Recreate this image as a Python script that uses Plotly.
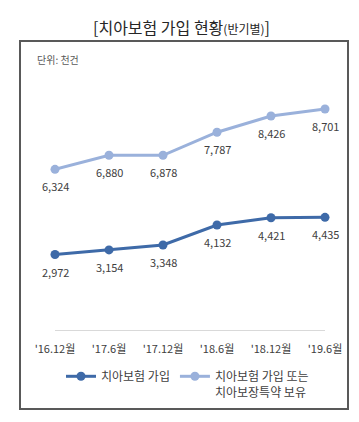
import plotly.graph_objects as go

categories = ["'16.12월", "'17.6월", "'17.12월", "'18.6월", "'18.12월", "'19.6월"]
dental_join = [2972, 3154, 3348, 4132, 4421, 4435]
dental_or_rider = [6324, 6880, 6878, 7787, 8426, 8701]
series_names = ["치아보험 가입", "치아보험 가입 또는<br>치아보장특약 보유"]

FONT = "Noto Sans CJK KR, Malgun Gothic, sans-serif"
DARK = "#3E6AA8"
LIGHT = "#9AB1DB"
xs = list(range(len(categories)))

fig = go.Figure()
fig.add_trace(go.Scatter(
    x=xs, y=dental_join, name=series_names[0], mode="lines+markers",
    line=dict(color=DARK, width=3), marker=dict(color=DARK, size=9), cliponaxis=False,
))
fig.add_trace(go.Scatter(
    x=xs, y=dental_or_rider, name=series_names[1], mode="lines+markers",
    line=dict(color=LIGHT, width=3), marker=dict(color=LIGHT, size=9), cliponaxis=False,
))

L, R, T, B = 55, 34, 76, 92
W, H = 359, 422
pw, ph = W - L - R, H - T - B

def px(x):
    return (x - L) / pw

def py(y):
    return (H - B - y) / ph

annotations = [
    dict(text="[치아보험 가입 현황<span style='font-size:12px'>(반기별)</span>]",
         xref="paper", yref="paper", x=px(181), y=py(27), showarrow=False,
         font=dict(size=16, color="#262626", family=FONT), xanchor="center", yanchor="middle"),
    dict(text="단위: 천건", xref="paper", yref="paper", x=px(35), y=py(60),
         showarrow=False, xanchor="left", yanchor="middle",
         font=dict(size=10, color="#595959", family=FONT)),
]
for series in (dental_join, dental_or_rider):
    for xi, v in zip(xs, series):
        annotations.append(dict(
            x=xi, y=v, xref="x", yref="y", text=f"{v:,}", showarrow=False,
            yshift=-17, xanchor="center", yanchor="middle",
            font=dict(size=11, color="#404040", family=FONT),
        ))

fig.update_layout(
    width=W, height=H,
    margin=dict(l=L, r=R, t=T, b=B, autoexpand=False),
    paper_bgcolor="white", plot_bgcolor="white",
    font=dict(family=FONT, color="#404040"),
    showlegend=True,
    legend=dict(
        orientation="h", x=px(61), xanchor="left", y=py(362), yanchor="top",
        font=dict(size=12, color="#404040", family=FONT),
        valign="top", itemwidth=30, tracegroupgap=0,
        bgcolor="rgba(0,0,0,0)",
    ),
    xaxis=dict(
        range=[0, 5], tickvals=xs, ticktext=categories,
        showgrid=False, zeroline=False, showline=True, linecolor="#D9D9D9", linewidth=1,
        ticks="outside", ticklen=9, tickcolor="rgba(0,0,0,0)",
        tickfont=dict(size=11, color="#404040", family=FONT),
        fixedrange=True,
    ),
    yaxis=dict(
        range=[0, 10000], showgrid=False, zeroline=False, showline=False,
        showticklabels=False, fixedrange=True,
    ),
    shapes=[dict(
        type="rect", xref="paper", yref="paper",
        x0=px(20), x1=px(348), y0=py(409), y1=py(41),
        line=dict(color="#595959", width=2), fillcolor="rgba(0,0,0,0)", layer="below",
    )],
    annotations=annotations,
)

fig.write_html("out.html", config={"displayModeBar": False},
               post_script="document.body.style.margin='0';document.body.style.overflow='hidden';")
